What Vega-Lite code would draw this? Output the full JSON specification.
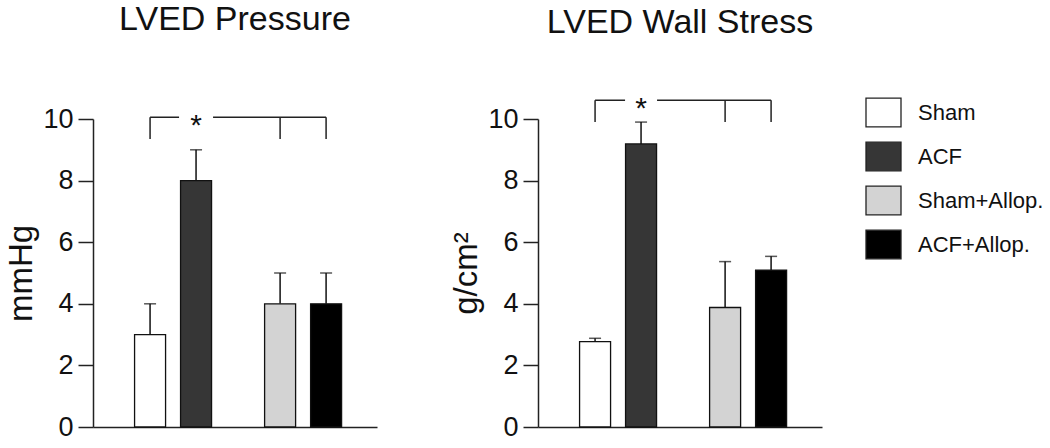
{
  "$schema": "https://vega.github.io/schema/vega-lite/v6.json",
  "padding": {"left": 5, "top": 3, "right": 5, "bottom": 5},
  "background": "white",
  "datasets": {
    "pressure": [
      {"group": "Sham", "model": "Sham", "drug": "Vehicle", "value": 3, "err": 4},
      {"group": "ACF", "model": "ACF", "drug": "Vehicle", "value": 8, "err": 9},
      {"group": "Sham+Allop.", "model": "Sham", "drug": "Allop.", "value": 4, "err": 5},
      {"group": "ACF+Allop.", "model": "ACF", "drug": "Allop.", "value": 4, "err": 5}
    ],
    "stress": [
      {"group": "Sham", "model": "Sham", "drug": "Vehicle", "value": 2.77, "err": 2.88},
      {"group": "ACF", "model": "ACF", "drug": "Vehicle", "value": 9.19, "err": 9.9},
      {"group": "Sham+Allop.", "model": "Sham", "drug": "Allop.", "value": 3.88, "err": 5.37},
      {"group": "ACF+Allop.", "model": "ACF", "drug": "Allop.", "value": 5.09, "err": 5.54}
    ],
    "pressureTicks": [
      {"drug": "Vehicle", "model": "Sham", "top": 10.06, "bottom": 9.35},
      {"drug": "Allop.", "model": "Sham", "top": 10.06, "bottom": 9.35},
      {"drug": "Allop.", "model": "ACF", "top": 10.06, "bottom": 9.35}
    ],
    "pressureLine": [
      {"drug": "Vehicle", "model": "Sham", "top": 10.06, "step": 1},
      {"drug": "Allop.", "model": "ACF", "top": 10.06, "step": 2}
    ],
    "pressureStar": [
      {"drug": "Vehicle", "model": "ACF", "top": 10.06, "label": "*"}
    ],
    "stressTicks": [
      {"drug": "Vehicle", "model": "Sham", "top": 10.61, "bottom": 9.9},
      {"drug": "Allop.", "model": "Sham", "top": 10.61, "bottom": 9.9},
      {"drug": "Allop.", "model": "ACF", "top": 10.61, "bottom": 9.9}
    ],
    "stressLine": [
      {"drug": "Vehicle", "model": "Sham", "top": 10.61, "step": 1},
      {"drug": "Allop.", "model": "ACF", "top": 10.61, "step": 2}
    ],
    "stressStar": [
      {"drug": "Vehicle", "model": "ACF", "top": 10.61, "label": "*"}
    ]
  },
  "spacing": 73,
  "hconcat": [
    {
      "title": {"text": "LVED Pressure", "offset": 63},
      "width": 284,
      "height": 308,
      "encoding": {
        "x": {"field": "drug", "type": "nominal", "sort": ["Vehicle", "Allop."],
              "scale": {"paddingInner": 0.408, "paddingOuter": 0.296, "align": 0.54},
              "axis": {"title": null, "labels": false, "ticks": false}},
        "xOffset": {"field": "model", "type": "nominal", "sort": ["Sham", "ACF"],
                    "scale": {"paddingInner": 0.326, "paddingOuter": 0}}
      },
      "layer": [
        {
          "data": {"name": "pressure"},
          "mark": {"type": "rule", "color": "#111", "strokeWidth": 1.5},
          "encoding": {
            "y": {"field": "value", "type": "quantitative", "title": "mmHg", "scale": {"domain": [0, 10], "nice": false},
                  "axis": {"values": [0, 2, 4, 6, 8, 10]}},
            "y2": {"field": "err"}
          }
        },
        {
          "data": {"name": "pressure"},
          "mark": {"type": "tick", "color": "#111", "size": 12, "thickness": 1.5},
          "encoding": {"y": {"field": "err", "type": "quantitative", "title": "mmHg"}}
        },
        {
          "data": {"name": "pressure"},
          "mark": {"type": "bar", "stroke": "#111", "strokeWidth": 1.3},
          "encoding": {
            "y": {"field": "value", "type": "quantitative", "title": "mmHg"},
            "color": {"field": "group", "type": "nominal",
                      "scale": {"domain": ["Sham", "ACF", "Sham+Allop.", "ACF+Allop."],
                                "range": ["#ffffff", "#363636", "#d3d3d3", "#000000"]},
                      "legend": {"title": null, "orient": "none", "legendX": 772, "legendY": -25}}
          }
        },
        {
          "data": {"name": "pressureTicks"},
          "mark": {"type": "rule", "color": "#222", "strokeWidth": 1.5},
          "encoding": {"y": {"field": "top", "type": "quantitative", "title": "mmHg"}, "y2": {"field": "bottom"}}
        },
        {
          "data": {"name": "pressureLine"},
          "mark": {"type": "line", "color": "#222", "strokeWidth": 1.5},
          "encoding": {"y": {"field": "top", "type": "quantitative", "title": "mmHg"}, "order": {"field": "step", "type": "quantitative"}}
        },
        {
          "data": {"name": "pressureStar"},
          "mark": {"type": "point", "shape": "square", "filled": true, "color": "white", "opacity": 1, "size": 1156, "strokeWidth": 0},
          "encoding": {"y": {"field": "top", "type": "quantitative", "title": "mmHg"}}
        },
        {
          "data": {"name": "pressureStar"},
          "mark": {"type": "text", "fontSize": 30, "baseline": "alphabetic", "dy": 18, "color": "#111"},
          "encoding": {"y": {"field": "top", "type": "quantitative", "title": "mmHg"}, "text": {"field": "label"}}
        }
      ]
    },
    {
      "title": {"text": "LVED Wall Stress", "offset": 44},
      "width": 284,
      "height": 308,
      "encoding": {
        "x": {"field": "drug", "type": "nominal", "sort": ["Vehicle", "Allop."],
              "scale": {"paddingInner": 0.408, "paddingOuter": 0.296, "align": 0.54},
              "axis": {"title": null, "labels": false, "ticks": false}},
        "xOffset": {"field": "model", "type": "nominal", "sort": ["Sham", "ACF"],
                    "scale": {"paddingInner": 0.326, "paddingOuter": 0}}
      },
      "layer": [
        {
          "data": {"name": "stress"},
          "mark": {"type": "rule", "color": "#111", "strokeWidth": 1.5},
          "encoding": {
            "y": {"field": "value", "type": "quantitative", "title": "g/cm²", "scale": {"domain": [0, 10], "nice": false},
                  "axis": {"values": [0, 2, 4, 6, 8, 10]}},
            "y2": {"field": "err"}
          }
        },
        {
          "data": {"name": "stress"},
          "mark": {"type": "tick", "color": "#111", "size": 12, "thickness": 1.5},
          "encoding": {"y": {"field": "err", "type": "quantitative", "title": "g/cm²"}}
        },
        {
          "data": {"name": "stress"},
          "mark": {"type": "bar", "stroke": "#111", "strokeWidth": 1.3},
          "encoding": {
            "y": {"field": "value", "type": "quantitative", "title": "g/cm²"},
            "color": {"field": "group", "type": "nominal",
                      "scale": {"domain": ["Sham", "ACF", "Sham+Allop.", "ACF+Allop."],
                                "range": ["#ffffff", "#363636", "#d3d3d3", "#000000"]},
                      "legend": {"title": null, "orient": "none", "legendX": 772, "legendY": -25}}
          }
        },
        {
          "data": {"name": "stressTicks"},
          "mark": {"type": "rule", "color": "#222", "strokeWidth": 1.5},
          "encoding": {"y": {"field": "top", "type": "quantitative", "title": "g/cm²"}, "y2": {"field": "bottom"}}
        },
        {
          "data": {"name": "stressLine"},
          "mark": {"type": "line", "color": "#222", "strokeWidth": 1.5},
          "encoding": {"y": {"field": "top", "type": "quantitative", "title": "g/cm²"}, "order": {"field": "step", "type": "quantitative"}}
        },
        {
          "data": {"name": "stressStar"},
          "mark": {"type": "point", "shape": "square", "filled": true, "color": "white", "opacity": 1, "size": 1024, "strokeWidth": 0},
          "encoding": {"y": {"field": "top", "type": "quantitative", "title": "g/cm²"}}
        },
        {
          "data": {"name": "stressStar"},
          "mark": {"type": "text", "fontSize": 30, "baseline": "alphabetic", "dy": 18, "color": "#111"},
          "encoding": {"y": {"field": "top", "type": "quantitative", "title": "g/cm²"}, "text": {"field": "label"}}
        }
      ]
    }
  ],
  "config": {
    "font": "Liberation Sans",
    "view": {"stroke": null},
    "title": {"fontSize": 34, "fontWeight": "normal", "color": "#111", "frame": "group", "anchor": "middle"},
    "axis": {
      "grid": false,
      "labelFontSize": 27, "labelColor": "#111", "labelPadding": 5,
      "titleFontSize": 33, "titleFontWeight": "normal", "titleColor": "#111", "titlePadding": 4,
      "tickSize": 15, "tickWidth": 1.5, "tickColor": "#222",
      "domainWidth": 1.5, "domainColor": "#222"
    },
    "legend": {
      "padding": 0,
      "labelFontSize": 22, "labelColor": "#111", "labelOffset": 16,
      "symbolType": "M-1,-0.82H1V0.82H-1Z",
      "symbolSize": 1225,
      "symbolStrokeColor": "#222",
      "symbolStrokeWidth": 1.3,
      "symbolOpacity": 1,
      "rowPadding": 8
    }
  }
}
